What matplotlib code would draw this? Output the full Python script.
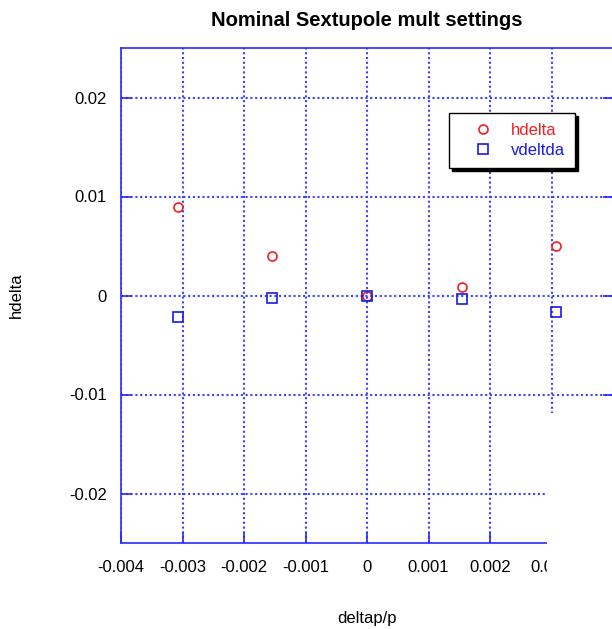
import matplotlib
matplotlib.use("Agg")
import matplotlib.pyplot as plt
from matplotlib.patches import Rectangle

# Momentum offsets and the chromatic response of each plane
deltap = [-0.00308, -0.00154, 0.0, 0.00154, 0.00308]
hdelta = [0.00897, 0.00395, 0.0, 0.00086, 0.00497]
vdeltda = [-0.00213, -0.00023, 0.0, -0.00033, -0.00170]

xticks = [-0.004, -0.003, -0.002, -0.001, 0.0, 0.001, 0.002, 0.003]
xticklabels = ["-0.004", "-0.003", "-0.002", "-0.001", "0", "0.001", "0.002", "0.003"]
yticks = [-0.02, -0.01, 0.0, 0.01, 0.02]
yticklabels = ["-0.02", "-0.01", "0", "0.01", "0.02"]

plt.rcParams["font.family"] = ["Liberation Sans", "DejaVu Sans"]

W, H = 612, 629
fig = plt.figure(figsize=(W / 100, H / 100), dpi=100)
ax = fig.add_axes([121 / W, 1 - 543 / H, 492 / W, 495 / H])

frame_blue = "#2a2aff"
grid_blue = "#4040ff"

ax.plot(deltap, hdelta, linestyle="none", marker="o", markersize=6.5,
        markerfacecolor="none", markeredgecolor="#ee2020", markeredgewidth=1.2,
        label="hdelta", zorder=3)
ax.plot(deltap, vdeltda, linestyle="none", marker="s", markersize=6.5,
        markerfacecolor="none", markeredgecolor="#1a1ae6", markeredgewidth=1.2,
        label="vdeltda", zorder=3)

ax.set_xlim(-0.004, 0.004)
ax.set_ylim(-0.025, 0.025)
ax.set_xticks(xticks)
ax.set_xticklabels(xticklabels)
ax.set_yticks(yticks)
ax.set_yticklabels(yticklabels)

ax.grid(True, color=grid_blue, linestyle=(0, (1.0, 1.3)), linewidth=1.5)
ax.set_axisbelow(True)

for side in ("left", "bottom", "right", "top"):
    ax.spines[side].set_color(frame_blue)
    ax.spines[side].set_linewidth(1.2)

ax.tick_params(axis="x", direction="in", length=8, width=1.2, color=frame_blue,
               labelsize=12, pad=12, top=False)
ax.tick_params(axis="y", direction="in", length=7, width=1.2, color=frame_blue,
               labelsize=12, pad=10, right=True)

ax.set_title("Nominal Sextupole mult settings", fontsize=14.5, fontweight="bold", pad=16)
ax.set_xlabel("deltap/p", fontsize=12)
ax.set_ylabel("hdelta", fontsize=12)
ax.xaxis.set_label_coords(0.5, (543 - 611) / 495)
ax.yaxis.set_label_coords((24 - 121) / 492, 0.5)

leg = ax.legend(loc="upper left", bbox_to_anchor=(449 / W, 1 - 113 / H),
                bbox_transform=fig.transFigure, borderaxespad=0, fontsize=12,
                frameon=True, fancybox=False, shadow={"color": "black", "alpha": 1},
                borderpad=0.6, handlelength=2.9, handletextpad=0.2,
                labelspacing=0.3)
leg.get_frame().set_edgecolor("black")
leg.get_frame().set_linewidth(1.0)
for txt, col in zip(leg.get_texts(), ["#ee2020", "#1a1ae6"]):
    txt.set_color(col)

# blank patch over the lower right corner of the canvas
fig.add_artist(Rectangle((547 / W, 0), (W - 547) / W, (H - 413) / H,
                         transform=fig.transFigure, facecolor="white",
                         edgecolor="none", zorder=10))

fig.savefig("out.png", dpi=100)
